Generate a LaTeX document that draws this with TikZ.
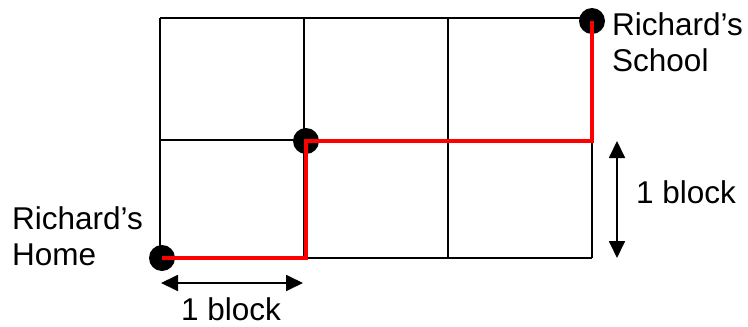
\documentclass[tikz,border=0pt]{standalone}
\usepackage{fontspec}
\setmainfont{Liberation Sans}
\usetikzlibrary{arrows.meta}
\definecolor{route}{HTML}{FF0000}

\begin{document}
\begin{tikzpicture}[
  x=1pt, y=-1pt,
  gridline/.style={line width=1.6pt, black},
  path/.style={line width=4.5pt, route},
  dot/.style={circle, fill=black, minimum size=26pt, inner sep=0pt},
  dim/.style={line width=1.8pt, {Triangle[length=17pt,width=16pt]}-{Triangle[length=17pt,width=16pt]}},
  label/.style={font=\fontsize{31.5}{36}\selectfont, align=left, inner sep=0pt},
]
\useasboundingbox (0,0) rectangle (748,327);

\foreach \x in {160, 304, 448, 592}
  \draw[gridline] (\x,18) -- (\x,258);
\foreach \y in {18, 140, 258}
  \draw[gridline] (160,\y) -- (592,\y);

\node[dot] (home) at (162,258) {};
\node[dot] (corner) at (306,141) {};
\node[dot] (school) at (592,21) {};

\draw[path] (home.center) -| (corner.center) -| (school.center);

\node[label, anchor=west] (homelbl) at (12,236) {Richard's\\Home};
\node[label, anchor=west] (schoollbl) at (612,42) {Richard's\\School};

\coordinate (hleft) at (161,283);
\coordinate (hright) at (303,283);
\draw[dim] (hleft) -- (hright);
\node[label] (hblock) at (231,309) {1 block};

\coordinate (vtop) at (617,141);
\coordinate (vbot) at (617,258);
\draw[dim] (vtop) -- (vbot);
\node[label] (vblock) at (686,192) {1 block};

\end{tikzpicture}
\end{document}
